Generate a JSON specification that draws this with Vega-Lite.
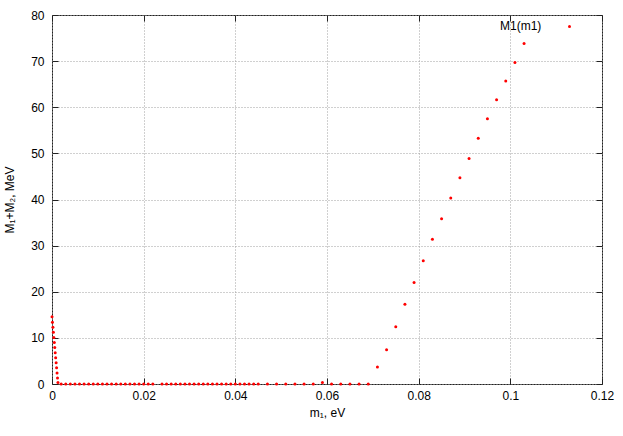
{
  "$schema": "https://vega.github.io/schema/vega-lite/v6.json",
  "width": 550,
  "height": 369,
  "autosize": {"type": "none"},
  "padding": {"left": 52, "top": 15, "right": 21, "bottom": 52},
  "background": "white",
  "config": {
    "font": "Liberation Sans",
    "view": {"stroke": "#222", "strokeWidth": 1},
    "axis": {
      "labelFont": "Liberation Sans",
      "titleFont": "Liberation Sans",
      "labelFontSize": 12,
      "titleFontSize": 12,
      "titleFontWeight": "normal",
      "labelColor": "#000",
      "titleColor": "#000",
      "labelFlush": false,
      "domain": false,
      "tickColor": "#222",
      "tickWidth": 1,
      "tickSize": -6,
      "gridColor": "#a0a0a0",
      "gridDash": [1, 2],
      "gridWidth": 1
    }
  },
  "data": {
    "values": [
      {"m1": 0, "M": 14.6, "s": "M1(m1)"},
      {"m1": 0.0001, "M": 13.4, "s": "M1(m1)"},
      {"m1": 0.0002, "M": 12.3, "s": "M1(m1)"},
      {"m1": 0.0003, "M": 11.2, "s": "M1(m1)"},
      {"m1": 0.0004, "M": 10.1, "s": "M1(m1)"},
      {"m1": 0.0005, "M": 9.0, "s": "M1(m1)"},
      {"m1": 0.0006, "M": 7.9, "s": "M1(m1)"},
      {"m1": 0.0007, "M": 6.8, "s": "M1(m1)"},
      {"m1": 0.0008, "M": 5.7, "s": "M1(m1)"},
      {"m1": 0.0009, "M": 4.6, "s": "M1(m1)"},
      {"m1": 0.001, "M": 3.5, "s": "M1(m1)"},
      {"m1": 0.0011, "M": 2.4, "s": "M1(m1)"},
      {"m1": 0.0012, "M": 1.3, "s": "M1(m1)"},
      {"m1": 0.0013, "M": 0.3, "s": "M1(m1)"},
      {"m1": 0.002, "M": 0, "s": "M1(m1)"},
      {"m1": 0.003, "M": 0, "s": "M1(m1)"},
      {"m1": 0.004, "M": 0, "s": "M1(m1)"},
      {"m1": 0.005, "M": 0, "s": "M1(m1)"},
      {"m1": 0.006, "M": 0, "s": "M1(m1)"},
      {"m1": 0.007, "M": 0, "s": "M1(m1)"},
      {"m1": 0.008, "M": 0, "s": "M1(m1)"},
      {"m1": 0.009, "M": 0, "s": "M1(m1)"},
      {"m1": 0.010, "M": 0, "s": "M1(m1)"},
      {"m1": 0.011, "M": 0, "s": "M1(m1)"},
      {"m1": 0.012, "M": 0, "s": "M1(m1)"},
      {"m1": 0.013, "M": 0, "s": "M1(m1)"},
      {"m1": 0.014, "M": 0, "s": "M1(m1)"},
      {"m1": 0.015, "M": 0, "s": "M1(m1)"},
      {"m1": 0.016, "M": 0, "s": "M1(m1)"},
      {"m1": 0.017, "M": 0, "s": "M1(m1)"},
      {"m1": 0.018, "M": 0, "s": "M1(m1)"},
      {"m1": 0.019, "M": 0, "s": "M1(m1)"},
      {"m1": 0.020, "M": 0, "s": "M1(m1)"},
      {"m1": 0.021, "M": 0, "s": "M1(m1)"},
      {"m1": 0.022, "M": 0, "s": "M1(m1)"},
      {"m1": 0.024, "M": 0, "s": "M1(m1)"},
      {"m1": 0.025, "M": 0, "s": "M1(m1)"},
      {"m1": 0.026, "M": 0, "s": "M1(m1)"},
      {"m1": 0.027, "M": 0, "s": "M1(m1)"},
      {"m1": 0.028, "M": 0, "s": "M1(m1)"},
      {"m1": 0.029, "M": 0, "s": "M1(m1)"},
      {"m1": 0.030, "M": 0, "s": "M1(m1)"},
      {"m1": 0.031, "M": 0, "s": "M1(m1)"},
      {"m1": 0.032, "M": 0, "s": "M1(m1)"},
      {"m1": 0.033, "M": 0, "s": "M1(m1)"},
      {"m1": 0.034, "M": 0, "s": "M1(m1)"},
      {"m1": 0.035, "M": 0, "s": "M1(m1)"},
      {"m1": 0.036, "M": 0, "s": "M1(m1)"},
      {"m1": 0.037, "M": 0, "s": "M1(m1)"},
      {"m1": 0.038, "M": 0, "s": "M1(m1)"},
      {"m1": 0.039, "M": 0, "s": "M1(m1)"},
      {"m1": 0.040, "M": 0, "s": "M1(m1)"},
      {"m1": 0.041, "M": 0, "s": "M1(m1)"},
      {"m1": 0.042, "M": 0, "s": "M1(m1)"},
      {"m1": 0.043, "M": 0, "s": "M1(m1)"},
      {"m1": 0.044, "M": 0, "s": "M1(m1)"},
      {"m1": 0.045, "M": 0, "s": "M1(m1)"},
      {"m1": 0.047, "M": 0, "s": "M1(m1)"},
      {"m1": 0.049, "M": 0, "s": "M1(m1)"},
      {"m1": 0.051, "M": 0, "s": "M1(m1)"},
      {"m1": 0.053, "M": 0, "s": "M1(m1)"},
      {"m1": 0.055, "M": 0, "s": "M1(m1)"},
      {"m1": 0.057, "M": 0, "s": "M1(m1)"},
      {"m1": 0.059, "M": 0.3, "s": "M1(m1)"},
      {"m1": 0.061, "M": 0, "s": "M1(m1)"},
      {"m1": 0.063, "M": 0, "s": "M1(m1)"},
      {"m1": 0.065, "M": 0, "s": "M1(m1)"},
      {"m1": 0.067, "M": 0, "s": "M1(m1)"},
      {"m1": 0.069, "M": 0, "s": "M1(m1)"},
      {"m1": 0.071, "M": 3.7, "s": "M1(m1)"},
      {"m1": 0.073, "M": 7.4, "s": "M1(m1)"},
      {"m1": 0.075, "M": 12.4, "s": "M1(m1)"},
      {"m1": 0.077, "M": 17.3, "s": "M1(m1)"},
      {"m1": 0.079, "M": 22.0, "s": "M1(m1)"},
      {"m1": 0.081, "M": 26.7, "s": "M1(m1)"},
      {"m1": 0.083, "M": 31.4, "s": "M1(m1)"},
      {"m1": 0.085, "M": 35.8, "s": "M1(m1)"},
      {"m1": 0.087, "M": 40.3, "s": "M1(m1)"},
      {"m1": 0.089, "M": 44.7, "s": "M1(m1)"},
      {"m1": 0.091, "M": 48.9, "s": "M1(m1)"},
      {"m1": 0.093, "M": 53.3, "s": "M1(m1)"},
      {"m1": 0.095, "M": 57.5, "s": "M1(m1)"},
      {"m1": 0.097, "M": 61.6, "s": "M1(m1)"},
      {"m1": 0.099, "M": 65.7, "s": "M1(m1)"},
      {"m1": 0.101, "M": 69.7, "s": "M1(m1)"},
      {"m1": 0.103, "M": 73.8, "s": "M1(m1)"}
    ]
  },
  "layer": [
    {
      "mark": {"type": "circle", "size": 9, "opacity": 1},
      "encoding": {
        "x": {
          "field": "m1",
          "type": "quantitative",
          "scale": {"domain": [0, 0.12], "nice": false, "zero": false},
          "axis": {
            "orient": "bottom",
            "values": [0, 0.02, 0.04, 0.06, 0.08, 0.1, 0.12],
            "format": ".2~f",
            "title": "m₁, eV",
            "grid": true,
            "labelPadding": 12,
            "titlePadding": 6
          }
        },
        "y": {
          "field": "M",
          "type": "quantitative",
          "scale": {"domain": [0, 80], "nice": false, "zero": false},
          "axis": {
            "orient": "left",
            "values": [0, 10, 20, 30, 40, 50, 60, 70, 80],
            "format": "d",
            "title": "M₁+M₂, MeV",
            "grid": true,
            "labelPadding": 14,
            "titlePadding": 14
          }
        },
        "color": {
          "field": "s",
          "type": "nominal",
          "scale": {"range": ["#ff0000"]},
          "legend": {
            "title": "M1(m1)",
            "titleOrient": "left",
            "titleFont": "Liberation Sans",
            "titleFontSize": 12,
            "titleFontWeight": "normal",
            "titleColor": "#000",
            "titlePadding": 25,
            "labelExpr": "''",
            "labelFontSize": 1,
            "labelOffset": 0,
            "symbolType": "circle",
            "symbolSize": 9,
            "orient": "none",
            "legendX": 448,
            "legendY": 9
          }
        }
      }
    },
    {
      "mark": {"type": "circle", "opacity": 0},
      "encoding": {
        "x": {
          "field": "m1",
          "type": "quantitative",
          "axis": {
            "orient": "top",
            "values": [0, 0.02, 0.04, 0.06, 0.08, 0.1, 0.12],
            "labels": false,
            "title": null,
            "grid": false
          }
        },
        "y": {
          "field": "M",
          "type": "quantitative",
          "axis": {
            "orient": "right",
            "values": [0, 10, 20, 30, 40, 50, 60, 70, 80],
            "labels": false,
            "title": null,
            "grid": false
          }
        }
      }
    }
  ],
  "resolve": {"axis": {"x": "independent", "y": "independent"}}
}
